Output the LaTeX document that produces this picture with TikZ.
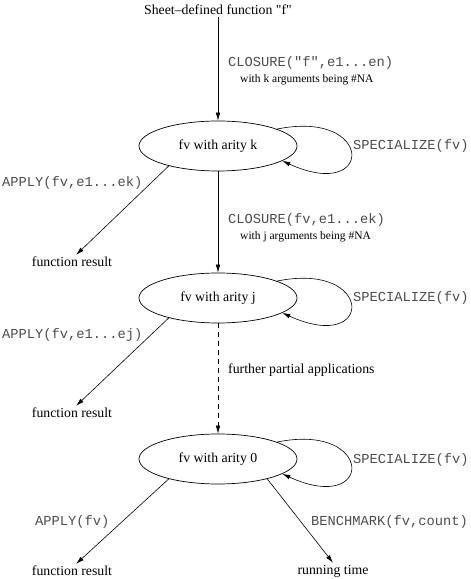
\documentclass[tikz,border=0pt]{standalone}
\usepackage{fontspec}
\setmainfont{Liberation Serif}
\setmonofont{Liberation Mono}
\usetikzlibrary{arrows.meta,shapes.geometric,positioning}
\tikzset{
>={Latex[length=8pt,width=4.5pt]},
  fval/.style={
    ellipse,
    draw=black, line width=0.7pt,
    minimum width=158pt,
    minimum height=50pt,
    inner sep=0pt,
    font=\fontsize{13.8}{16}\selectfont},
  result/.style={inner sep=2pt, font=\fontsize{13.8}{16}\selectfont},
  remark/.style={anchor=west, inner sep=0pt, font=\fontsize{13.8}{16}\selectfont},
  op/.style={
    anchor=west, inner sep=0pt,
    text=black!70,
    font=\ttfamily\fontsize{13.75}{16}\selectfont},
  note/.style={anchor=west, inner sep=0pt, font=\fontsize{11.5}{13}\selectfont},
  line/.style={draw, line width=0.6pt, ->},
  further/.style={line, dash pattern=on 5pt off 4pt}
}
\begin{document}
\begin{tikzpicture}[x=1pt,y=1pt]
    \useasboundingbox (0,0) rectangle (471,579);

    \node[result] (sheet) at (218,569) {Sheet--defined function \textquotedbl f\textquotedbl};

    \node[fval] (fk) at (218,433) {fv with arity k};
    \node[fval] (fj) at (218,281) {fv with arity j};
    \node[fval] (f0) at (218,120) {fv with arity 0};

    \node[result] (rk) at (72,317) {function result};
    \node[result] (rj) at (72,166) {function result};
    \node[result] (r0) at (72,8) {function result};
    \node[result] (rt) at (333,8) {running time};

    %%% operations
    \node[op] (ck) at (228,516) {CLOSURE("f",e1...en)};
    \node[note] (nk) at (240,499) {with k arguments being \#NA};
    \node[op] (ak) at (2,396) {APPLY(fv,e1...ek)};
    \node[op] (cj) at (228,359) {CLOSURE(fv,e1...ek)};
    \node[note] (nj) at (240,342) {with j arguments being \#NA};
    \node[op] (aj) at (2,244) {APPLY(fv,e1...ej)};
    \node[remark] (fp) at (228,209) {further partial applications};
    \node[op] (a0) at (35,57) {APPLY(fv)};
    \node[op] (b0) at (311,57) {BENCHMARK(fv,count)};

    \node[op] (sk) at (353,433) {SPECIALIZE(fv)};
    \node[op] (sj) at (353,281) {SPECIALIZE(fv)};
    \node[op] (s0) at (353,119) {SPECIALIZE(fv)};

    \draw[line] (sheet.south) -- (fk.north);
    \draw[line] (fk.south) -- (fj.north);
    \draw[further] (fj.south) -- (f0.north);

    \draw[line] (fk.202) -- (rk.60);
    \draw[line] (fj.202) -- (rj.60);
    \draw[line] (f0.202) -- (r0.60);
    \draw[line] (f0.-22) -- (rt.north);

    % specialisation loops
    \draw[line] (fk.16) .. controls +(98,20) and +(92,-42) .. (fk.-13);
    \draw[line] (fj.16) .. controls +(98,20) and +(92,-42) .. (fj.-13);
    \draw[line] (f0.16) .. controls +(98,20) and +(92,-42) .. (f0.-13);
\end{tikzpicture}
\end{document}
